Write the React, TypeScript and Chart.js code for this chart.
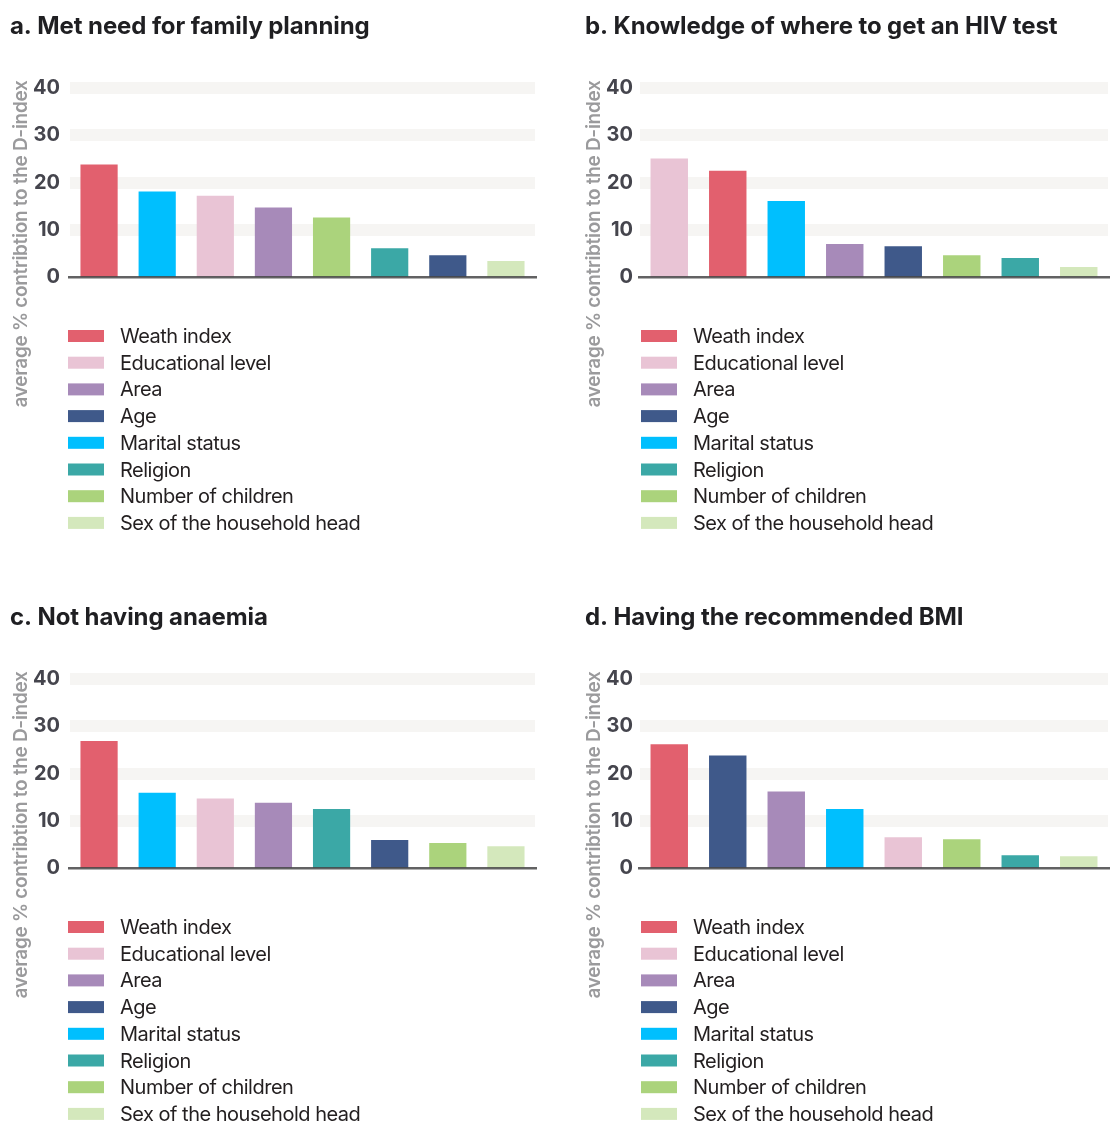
import { useEffect, useRef } from "react";
import { Chart, registerables } from "chart.js";

Chart.register(...registerables);

// Factors shown in every legend, in legend order
const factorLabels = [
  "Weath index",
  "Educational level",
  "Area",
  "Age",
  "Marital status",
  "Religion",
  "Number of children",
  "Sex of the household head",
];
const factorColors = [
  "#e2606e",
  "#e9c4d5",
  "#a78ab9",
  "#3f598a",
  "#00bffe",
  "#3ba8a6",
  "#abd37c",
  "#d4e8bc",
];

const yTicks = [0, 10, 20, 30, 40];
const axisTitle = "average % contribtion to the D-index";

// a. Met need for family planning
const titleA = "a. Met need for family planning";
const categoriesA = ["Weath index", "Marital status", "Educational level", "Area", "Number of children", "Religion", "Age", "Sex of the household head"];
const valuesA = [23.8, 18.1, 17.2, 14.7, 12.6, 6.1, 4.6, 3.4];

// b. Knowledge of where to get an HIV test
const titleB = "b. Knowledge of where to get an HIV test";
const categoriesB = ["Educational level", "Weath index", "Marital status", "Area", "Age", "Number of children", "Religion", "Sex of the household head"];
const valuesB = [25.1, 22.5, 16.1, 7.0, 6.5, 4.6, 4.0, 2.1];

// c. Not having anaemia
const titleC = "c. Not having anaemia";
const categoriesC = ["Weath index", "Marital status", "Educational level", "Area", "Religion", "Age", "Number of children", "Sex of the household head"];
const valuesC = [26.9, 15.9, 14.7, 13.8, 12.5, 5.9, 5.3, 4.6];

// d. Having the recommended BMI
const titleD = "d. Having the recommended BMI";
const categoriesD = ["Weath index", "Age", "Area", "Marital status", "Educational level", "Number of children", "Religion", "Sex of the household head"];
const valuesD = [26.2, 23.8, 16.2, 12.5, 6.5, 6.1, 2.7, 2.5];

const FONT = "Inter, 'Noto Sans', sans-serif";

type PanelProps = {
  title: string;
  categories: string[];
  values: number[];
  left: number;
  top: number;
  width: number;
  height: number;
  plotLeft: number;
  plotRight: number;
  titleX: number;
};

function Panel(p: PanelProps) {
  const ref = useRef<HTMLCanvasElement>(null);

  useEffect(() => {
    const canvas = ref.current;
    if (!canvas) return;
    const plotTop = 88;
    const plotBottom = 277;

    const decor = {
      id: "panelDecor",
      beforeDraw(chart: any) {
        const ctx = chart.ctx as CanvasRenderingContext2D;
        ctx.save();
        // panel title
        (ctx as any).letterSpacing = "-0.1px";
        ctx.fillStyle = "#1f1f22";
        ctx.font = `bold 24px ${FONT}`;
        ctx.textAlign = "left";
        ctx.textBaseline = "alphabetic";
        ctx.fillText(p.title, p.titleX, 34);

        // rotated y-axis title
        (ctx as any).letterSpacing = "-0.3px";
        ctx.translate(21, 244);
        ctx.rotate(-Math.PI / 2);
        ctx.fillStyle = "#9a9a9c";
        ctx.font = `600 19px ${FONT}`;
        ctx.textAlign = "center";
        ctx.textBaseline = "middle";
        ctx.fillText(axisTitle, 0, 0);
        ctx.restore();

        // legend
        ctx.save();
        (ctx as any).letterSpacing = "-0.5px";
        ctx.font = `400 20px ${FONT}`;
        ctx.textAlign = "left";
        ctx.textBaseline = "middle";
        factorLabels.forEach((lab, i) => {
          const cy = 336 + i * 26.7;
          ctx.fillStyle = factorColors[i];
          ctx.fillRect(68, cy - 6, 36, 12);
          ctx.fillStyle = "#231f20";
          ctx.fillText(lab, 120, cy + 1);
        });
        ctx.restore();
      },
      afterDatasetsDraw(chart: any) {
        // dark zero line over the bar bases
        const ctx = chart.ctx as CanvasRenderingContext2D;
        const y = chart.scales.y.getPixelForValue(0);
        const area = chart.chartArea;
        ctx.save();
        ctx.fillStyle = "rgba(70,70,72,0.85)";
        ctx.fillRect(area.left - 2, y - 1, area.right - area.left + 4, 2.5);
        ctx.restore();
      },
    };

    const chart = new Chart(canvas, {
      type: "bar",
      data: {
        labels: p.categories,
        datasets: [
          {
            data: p.values,
            backgroundColor: p.categories.map((c) => factorColors[factorLabels.indexOf(c)]),
            borderWidth: 0,
            barPercentage: 0.64,
            categoryPercentage: 1,
          },
        ],
      },
      options: {
        responsive: false,
        animation: false,
        events: [],
        layout: {
          padding: {
            top: plotTop,
            bottom: p.height - plotBottom,
            left: 0,
            right: p.width - p.plotRight,
          },
        },
        plugins: {
          legend: { display: false },
          tooltip: { enabled: false },
          title: { display: false },
        },
        scales: {
          x: { display: false },
          y: {
            min: 0,
            max: 40,
            afterFit(scale: any) {
              scale.width = p.plotLeft;
            },
            afterBuildTicks(scale: any) {
              scale.ticks = yTicks.map((v) => ({ value: v }));
            },
            border: { display: false },
            grid: {
              drawTicks: false,
              lineWidth: (c: any) => (c.tick && c.tick.value === 0 ? 0 : 12),
              color: (c: any) => (c.tick && c.tick.value === 0 ? "rgba(0,0,0,0)" : "#f6f5f3"),
            },
            ticks: {
              padding: p.plotLeft - 60,
              color: "#45454d",
              font: { family: FONT, size: 20, weight: "bold" },
            },
          },
        },
      },
      plugins: [decor],
    });
    return () => chart.destroy();
  }, []);

  return (
    <div style={{ position: "absolute", left: p.left, top: p.top, width: p.width, height: p.height }}>
      <canvas ref={ref} width={p.width} height={p.height} style={{ display: "block" }} />
    </div>
  );
}

export default function App() {
  return (
    <div style={{ position: "absolute", left: 0, top: 0, width: 1110, height: 1124, background: "#ffffff" }}>
      <Panel title={titleA} categories={categoriesA} values={valuesA} left={0} top={0} width={555} height={591} plotLeft={70} plotRight={535} titleX={10} />
      <Panel title={titleB} categories={categoriesB} values={valuesB} left={573} top={0} width={537} height={591} plotLeft={67} plotRight={535} titleX={12} />
      <Panel title={titleC} categories={categoriesC} values={valuesC} left={0} top={591} width={555} height={533} plotLeft={70} plotRight={535} titleX={10} />
      <Panel title={titleD} categories={categoriesD} values={valuesD} left={573} top={591} width={537} height={533} plotLeft={67} plotRight={535} titleX={12} />
    </div>
  );
}
